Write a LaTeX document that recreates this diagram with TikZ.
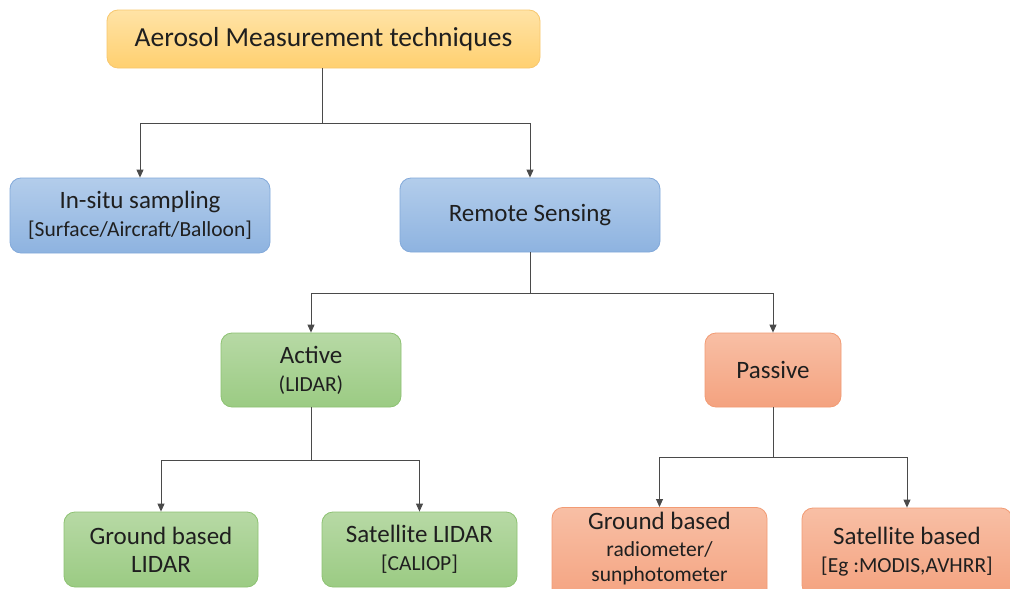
\documentclass[tikz,border=0pt]{standalone}
\usepackage{fontspec}
\setmainfont{Carlito}
\usetikzlibrary{arrows.meta}

\definecolor{ylTop}{HTML}{FFE3A6}
\definecolor{ylBot}{HTML}{FFD070}
\definecolor{ylLine}{HTML}{F7C76E}
\definecolor{blTop}{HTML}{B3CDEB}
\definecolor{blBot}{HTML}{8EB3E0}
\definecolor{blLine}{HTML}{82A9DA}
\definecolor{grTop}{HTML}{B7D9A5}
\definecolor{grBot}{HTML}{9BCB83}
\definecolor{grLine}{HTML}{8DC272}
\definecolor{orTop}{HTML}{F8BFA5}
\definecolor{orBot}{HTML}{F4A27F}
\definecolor{orLine}{HTML}{F29B74}
\definecolor{wire}{HTML}{4A4A4A}

\tikzset{
  box/.style={rounded corners=11pt, inner sep=0pt, align=center,
    line width=0.8pt, text=black!88},
  yellowbox/.style={box, draw=ylLine, top color=ylTop, bottom color=ylBot},
  bluebox/.style={box, draw=blLine, top color=blTop, bottom color=blBot},
  greenbox/.style={box, draw=grLine, top color=grTop, bottom color=grBot},
  orangebox/.style={box, draw=orLine, top color=orTop, bottom color=orBot},
  bigtext/.style={font=\fontsize{25}{28}\selectfont},
  wireline/.style={draw=wire, line width=0.9pt},
  arr/.style={wireline, -{Triangle[width=7pt,length=8pt]}},
}
\newcommand{\subline}[1]{{\fontsize{21.5}{28}\selectfont #1}}

\begin{document}
\begin{tikzpicture}[x=1pt,y=-1pt]
\clip (0,0) rectangle (1010,589);
\fill[white] (0,0) rectangle (1010,589);

% level 0
\node[yellowbox, minimum width=433pt, minimum height=58pt,
  font=\fontsize{27.5}{30}\selectfont] (top) at (323.5,39) {Aerosol Measurement techniques};

% level 1
\node[bluebox, bigtext, minimum width=260pt, minimum height=75pt] (insitu) at (140,215.5)
  {In-situ sampling\\\subline{[Surface/Aircraft/Balloon]}};
\node[bluebox, bigtext, minimum width=260pt, minimum height=74pt] (remote) at (530,215)
  {Remote Sensing};

% level 2
\node[greenbox, bigtext, minimum width=180pt, minimum height=74pt] (active) at (311,370)
  {Active\\\subline{(LIDAR)}};
\node[orangebox, bigtext, minimum width=136pt, minimum height=74pt] (passive) at (773,370)
  {Passive};

% level 3, active branch
\node[greenbox, bigtext, minimum width=194pt, minimum height=75pt] (glidar) at (161,549.5)
  {Ground based\\LIDAR};
\node[greenbox, bigtext, minimum width=195pt, minimum height=75pt] (slidar) at (419.5,549.5)
  {Satellite LIDAR\\\subline{[CALIOP]}};

% level 3, passive branch
\node[orangebox, minimum width=215pt, minimum height=96pt, anchor=north] (grad) at (659.5,507) {};
\node[bigtext, align=center, anchor=north, inner sep=0pt, text=black!88] (gradtext) at (659.5,512)
  {Ground based\\[-1pt]\subline{radiometer/}\\[-3pt]\subline{sunphotometer}};
\node[orangebox, bigtext, minimum width=210pt, minimum height=88pt] (sat) at (907,552)
  {Satellite based\\\subline{[Eg :MODIS,AVHRR]}};

% connectors
\coordinate (j0) at (322,123);
\draw[wireline] (top.south -| j0) -- (j0);
\draw[arr] (j0) -| (insitu.north);
\draw[arr] (j0) -| (remote.north);

\coordinate (j1) at (530,293);
\draw[wireline] (remote.south) -- (j1);
\draw[arr] (j1) -| (active.north);
\draw[arr] (j1) -| (passive.north);

\coordinate (j2) at (311,460);
\draw[wireline] (active.south) -- (j2);
\draw[arr] (j2) -| (glidar.north);
\draw[arr] (j2) -| (slidar.north);

\coordinate (j3) at (773,457);
\draw[wireline] (passive.south) -- (j3);
\draw[arr] (j3) -| (grad.north);
\draw[arr] (j3) -| (sat.north);
\end{tikzpicture}
\end{document}
